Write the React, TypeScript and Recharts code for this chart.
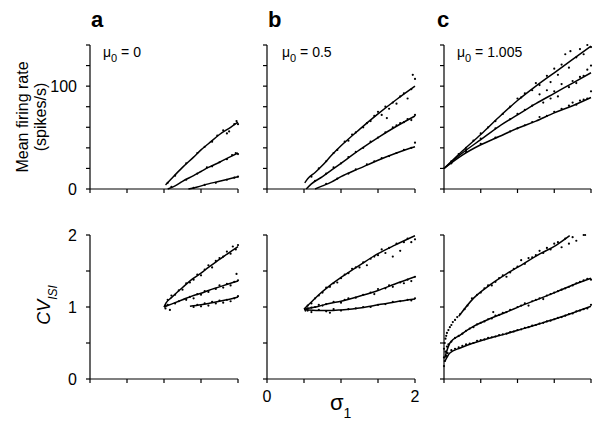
import { ComposedChart, Line, Scatter, XAxis, YAxis } from "recharts"

type Pt = [number, number]

const FONT = "'Liberation Sans', Arial, Helvetica, sans-serif"

const SIGMA_TICKS = [0, 0.5, 1, 1.5, 2]
const RATE_TICKS = [0, 20, 40, 60, 80, 100, 120, 140]
const CV_TICKS = [0, 0.5, 1, 1.5, 2]
const RATE_LABELS = [0, 100]
const CV_LABELS = [0, 1, 2]
const SIGMA_LABELS = [0, 2]
const PANEL_LETTERS = ["a", "b", "c"]
const MU0 = ["0", "0.5", "1.005"]

// firing rate, mu0 = 0
const fitA1: Pt[] = [[1.02, 4], [1.1, 10], [1.25, 21], [1.4, 31], [1.5, 38], [1.6, 44], [1.75, 53], [1.9, 60], [2, 65]]
const fitA2: Pt[] = [[1.05, 0], [1.15, 3], [1.25, 7.5], [1.4, 13], [1.5, 17], [1.6, 21], [1.75, 26], [1.9, 31.5], [2, 35]]
const fitA3: Pt[] = [[1.33, 0], [1.45, 2], [1.6, 5], [1.75, 7.5], [1.9, 10.2], [2, 12]]
const dotsA1: Pt[] = [[1.05, 6], [1.15, 13], [1.3, 25], [1.45, 35], [1.55, 41], [1.65, 46], [1.72, 52], [1.8, 57], [1.85, 54], [1.88, 56], [1.95, 63], [1.98, 66], [2, 63]]
const dotsA2: Pt[] = [[1.1, 2], [1.3, 9], [1.45, 15], [1.58, 21], [1.65, 22], [1.75, 26], [1.85, 29], [1.92, 33], [1.97, 35], [2, 34]]
const dotsA3: Pt[] = [[1.4, 1], [1.55, 4], [1.7, 6], [1.85, 9], [1.95, 11], [2, 12]]

// firing rate, mu0 = 0.5
const fitB1: Pt[] = [[0.51, 6], [0.55, 10], [0.65, 16], [0.75, 23], [0.875, 33], [1, 42], [1.25, 58], [1.5, 73], [1.75, 87], [2, 100]]
const fitB2: Pt[] = [[0.53, 0], [0.6, 5], [0.75, 12], [0.875, 18.5], [1, 25], [1.25, 38], [1.5, 50], [1.75, 61], [2, 71]]
const fitB3: Pt[] = [[0.65, 0], [0.75, 3], [0.875, 7], [1, 12], [1.25, 20], [1.5, 28], [1.75, 35], [2, 41]]
const dotsB1: Pt[] = [[0.6, 12], [0.7, 20], [0.8, 27], [0.9, 35], [0.95, 38], [1.05, 46], [1.1, 47], [1.15, 53], [1.2, 55], [1.3, 60], [1.35, 64], [1.4, 66], [1.45, 71], [1.5, 75], [1.55, 72], [1.6, 80], [1.62, 69], [1.65, 78], [1.7, 84], [1.75, 83], [1.8, 90], [1.85, 93], [1.9, 88], [1.95, 97], [1.97, 111], [2, 107]]
const dotsB2: Pt[] = [[0.65, 8], [0.8, 15], [0.9, 21], [1, 25], [1.1, 31], [1.2, 36], [1.3, 40], [1.4, 46], [1.5, 50], [1.6, 55], [1.7, 60], [1.75, 62], [1.8, 64], [1.85, 65], [1.9, 68], [1.95, 67], [2, 72]]
const dotsB3: Pt[] = [[0.8, 5], [0.95, 10], [1.1, 15], [1.2, 19], [1.35, 24], [1.45, 27], [1.55, 30], [1.65, 32], [1.75, 35], [1.85, 38], [1.95, 40], [2, 45]]

// firing rate, mu0 = 1.005
const fitC1: Pt[] = [[0, 20], [0.25, 37], [0.5, 53], [0.75, 70], [1, 86], [1.25, 100], [1.5, 113], [1.75, 126], [2, 139]]
const fitC2: Pt[] = [[0, 20], [0.25, 35], [0.5, 48], [0.75, 61], [1, 72], [1.25, 83], [1.5, 93], [1.75, 103], [2, 113]]
const fitC3: Pt[] = [[0, 20], [0.25, 33], [0.5, 43], [0.75, 51], [1, 59], [1.25, 66], [1.5, 74], [1.75, 81], [2, 89]]
const dotsC1: Pt[] = [[0.1, 27], [0.2, 34], [0.3, 40], [0.4, 47], [0.5, 54], [0.6, 60], [0.7, 66], [0.8, 73], [0.9, 80], [1, 88], [1.05, 89], [1.1, 93], [1.2, 96], [1.25, 103], [1.3, 101], [1.4, 110], [1.45, 104], [1.5, 117], [1.55, 111], [1.6, 121], [1.65, 131], [1.7, 118], [1.72, 134], [1.8, 128], [1.85, 136], [1.9, 131], [1.95, 140], [2, 138]]
const dotsC2: Pt[] = [[0.1, 26], [0.3, 38], [0.5, 49], [0.7, 59], [0.9, 68], [1, 73], [1.1, 77], [1.2, 81], [1.3, 92], [1.35, 84], [1.4, 96], [1.45, 88], [1.5, 95], [1.55, 90], [1.6, 102], [1.7, 99], [1.75, 105], [1.8, 103], [1.85, 109], [1.9, 110], [1.95, 116], [2, 120]]
const dotsC3: Pt[] = [[0.1, 25], [0.3, 36], [0.5, 44], [0.7, 50], [0.9, 56], [1, 59], [1.1, 62], [1.2, 65], [1.3, 70], [1.4, 71], [1.5, 75], [1.6, 78], [1.7, 81], [1.75, 84], [1.8, 82], [1.85, 86], [1.9, 87], [1.95, 88], [2, 95]]

// CV ISI, mu0 = 0
const cvFitA1: Pt[] = [[1, 1], [1.03, 1.06], [1.1, 1.13], [1.25, 1.27], [1.4, 1.4], [1.5, 1.47], [1.6, 1.55], [1.75, 1.66], [1.9, 1.77], [2, 1.84]]
const cvFitA2: Pt[] = [[1, 1], [1.1, 1.04], [1.25, 1.1], [1.4, 1.16], [1.5, 1.19], [1.6, 1.23], [1.75, 1.28], [1.9, 1.33], [2, 1.36]]
const cvFitA3: Pt[] = [[1.35, 1.01], [1.5, 1.03], [1.65, 1.06], [1.8, 1.09], [1.9, 1.11], [2, 1.14]]
const cvDotsA1: Pt[] = [[1.02, 1.02], [1.05, 1.1], [1.1, 1.16], [1.15, 1.17], [1.2, 1.23], [1.25, 1.24], [1.3, 1.33], [1.35, 1.34], [1.4, 1.38], [1.45, 1.45], [1.5, 1.44], [1.55, 1.52], [1.6, 1.58], [1.65, 1.55], [1.7, 1.64], [1.75, 1.68], [1.8, 1.7], [1.85, 1.77], [1.9, 1.74], [1.93, 1.84], [1.97, 1.8], [2, 1.86]]
const cvDotsA2: Pt[] = [[1.02, 0.98], [1.05, 1.03], [1.08, 0.96], [1.15, 1.05], [1.2, 1.08], [1.3, 1.1], [1.35, 1.14], [1.4, 1.12], [1.45, 1.18], [1.5, 1.17], [1.55, 1.22], [1.6, 1.21], [1.7, 1.25], [1.75, 1.3], [1.8, 1.27], [1.85, 1.32], [1.9, 1.3], [1.95, 1.35], [1.98, 1.46], [2, 1.37]]
const cvDotsA3: Pt[] = [[1.4, 1], [1.45, 1.03], [1.5, 1.01], [1.55, 1.05], [1.6, 1.02], [1.65, 1.07], [1.7, 1.05], [1.75, 1.09], [1.8, 1.06], [1.85, 1.1], [1.9, 1.08], [1.95, 1.12], [2, 1.15]]

// CV ISI, mu0 = 0.5
const cvFitB1: Pt[] = [[0.5, 0.97], [0.6, 1.07], [0.7, 1.17], [0.84, 1.29], [1, 1.41], [1.28, 1.6], [1.5, 1.74], [1.73, 1.86], [2, 1.99]]
const cvFitB2: Pt[] = [[0.5, 0.97], [0.7, 1.01], [0.84, 1.05], [1, 1.08], [1.28, 1.16], [1.5, 1.23], [1.73, 1.32], [2, 1.42]]
const cvFitB3: Pt[] = [[0.5, 0.97], [0.7, 0.95], [0.84, 0.95], [1, 0.96], [1.28, 0.99], [1.5, 1.03], [1.73, 1.07], [2, 1.11]]
const cvDotsB1: Pt[] = [[0.52, 0.95], [0.55, 1.02], [0.6, 1.05], [0.65, 1.12], [0.7, 1.16], [0.75, 1.2], [0.8, 1.27], [0.85, 1.28], [0.9, 1.33], [0.95, 1.34], [1, 1.4], [1.05, 1.45], [1.1, 1.47], [1.15, 1.53], [1.2, 1.55], [1.25, 1.55], [1.3, 1.62], [1.35, 1.58], [1.4, 1.67], [1.45, 1.7], [1.5, 1.72], [1.55, 1.8], [1.6, 1.75], [1.65, 1.82], [1.7, 1.7], [1.75, 1.88], [1.8, 1.78], [1.85, 1.9], [1.9, 1.95], [1.95, 1.9], [2, 1.94]]
const cvDotsB2: Pt[] = [[0.55, 0.98], [0.6, 0.99], [0.65, 1], [0.7, 1.03], [0.75, 1.02], [0.8, 1.04], [0.9, 1.07], [1, 1.06], [1.05, 1.1], [1.1, 1.12], [1.2, 1.13], [1.3, 1.17], [1.4, 1.2], [1.45, 1.18], [1.5, 1.25], [1.6, 1.26], [1.65, 1.3], [1.7, 1.28], [1.8, 1.34], [1.85, 1.33], [1.9, 1.38], [1.95, 1.36], [2, 1.42]]
const cvDotsB3: Pt[] = [[0.55, 0.95], [0.6, 0.93], [0.7, 0.96], [0.8, 0.94], [0.85, 0.92], [0.9, 0.97], [1, 0.95], [1.1, 0.97], [1.2, 0.98], [1.3, 1], [1.4, 1], [1.5, 1.03], [1.6, 1.04], [1.7, 1.07], [1.8, 1.08], [1.9, 1.1], [1.95, 1.09], [2, 1.12]]

// CV ISI, mu0 = 1.005
const cvFitC1: Pt[] = [[0.2, 0.87], [0.4, 1.12], [0.63, 1.31], [0.85, 1.46], [1.08, 1.6], [1.31, 1.74], [1.53, 1.86], [1.71, 1.99]]
const cvFitC2: Pt[] = [[0.01, 0.29], [0.08, 0.5], [0.22, 0.61], [0.4, 0.73], [0.63, 0.84], [0.85, 0.93], [1.08, 1.03], [1.31, 1.12], [1.53, 1.21], [1.76, 1.31], [2, 1.4]]
const cvFitC3: Pt[] = [[0.01, 0.24], [0.08, 0.36], [0.22, 0.43], [0.4, 0.5], [0.63, 0.57], [0.85, 0.63], [1.08, 0.7], [1.31, 0.77], [1.53, 0.84], [1.76, 0.92], [2, 1.01]]
const cvDotsC1: Pt[] = [[0, 0.42], [0.01, 0.5], [0.02, 0.56], [0.03, 0.6], [0.04, 0.64], [0.06, 0.68], [0.08, 0.72], [0.1, 0.75], [0.12, 0.79], [0.15, 0.82], [0.18, 0.86], [0.22, 0.9], [0.28, 0.97], [0.32, 1.02], [0.38, 1.12], [0.45, 1.17], [0.5, 1.2], [0.55, 1.26], [0.6, 1.3], [0.65, 1.3], [0.7, 1.35], [0.75, 1.4], [0.8, 1.44], [0.85, 1.42], [0.9, 1.48], [0.95, 1.53], [1, 1.56], [1.05, 1.65], [1.1, 1.6], [1.15, 1.68], [1.2, 1.69], [1.25, 1.72], [1.3, 1.78], [1.35, 1.75], [1.4, 1.82], [1.45, 1.8], [1.5, 1.88], [1.55, 1.9], [1.6, 1.83], [1.65, 1.95], [1.7, 1.88], [1.75, 1.97], [1.8, 1.92], [1.9, 2], [1.92, 2]]
const cvDotsC2: Pt[] = [[0, 0.3], [0.02, 0.38], [0.04, 0.45], [0.06, 0.48], [0.1, 0.52], [0.15, 0.57], [0.2, 0.6], [0.25, 0.63], [0.3, 0.67], [0.35, 0.7], [0.4, 0.72], [0.45, 0.76], [0.5, 0.78], [0.55, 0.8], [0.6, 0.83], [0.65, 0.84], [0.67, 0.93], [0.7, 0.88], [0.75, 0.89], [0.8, 0.92], [0.85, 0.93], [0.9, 0.96], [1, 1], [1.05, 1.02], [1.1, 1.05], [1.15, 1.02], [1.2, 1.08], [1.25, 1.1], [1.3, 1.12], [1.35, 1.11], [1.4, 1.16], [1.45, 1.18], [1.5, 1.2], [1.55, 1.22], [1.6, 1.24], [1.65, 1.26], [1.7, 1.28], [1.75, 1.3], [1.8, 1.33], [1.85, 1.35], [1.9, 1.37], [1.95, 1.39], [2, 1.38]]
const cvDotsC3: Pt[] = [[0, 0.18], [0.01, 0.25], [0.03, 0.32], [0.05, 0.36], [0.1, 0.4], [0.15, 0.42], [0.2, 0.44], [0.25, 0.46], [0.3, 0.48], [0.35, 0.49], [0.4, 0.5], [0.45, 0.53], [0.5, 0.54], [0.55, 0.55], [0.6, 0.57], [0.65, 0.58], [0.7, 0.59], [0.75, 0.61], [0.8, 0.62], [0.85, 0.63], [0.9, 0.65], [0.95, 0.66], [1, 0.68], [1.05, 0.69], [1.1, 0.71], [1.15, 0.72], [1.2, 0.74], [1.25, 0.75], [1.3, 0.77], [1.35, 0.78], [1.4, 0.8], [1.45, 0.81], [1.5, 0.83], [1.55, 0.85], [1.6, 0.86], [1.65, 0.88], [1.7, 0.9], [1.75, 0.91], [1.8, 0.94], [1.85, 0.95], [1.9, 0.97], [1.95, 0.98], [2, 1.03]]

const toXY = (pts: Pt[]) => pts.map(([x, y]) => ({ x, y }))

const tickStyle = { fontSize: 16, fill: "#000", fontFamily: FONT }

const Dot = (props: any) => <circle cx={props.cx} cy={props.cy} r={1.1} fill="#000" />

type PanelProps = {
  left: number
  top: number
  yw: number
  plotW: number
  xh: number
  yDomain: [number, number]
  yTicks: number[]
  yLabels: number[]
  xLabels: number[]
  fits: Pt[][]
  dots: Pt[][]
}

function Panel({ left, top, yw, plotW, xh, yDomain, yTicks, yLabels, xLabels, fits, dots }: PanelProps) {
  const width = yw + plotW + 8
  const height = 15 + 144 + xh + 2
  return (
    <div style={{ position: "absolute", left, top }}>
      <ComposedChart width={width} height={height} margin={{ top: 15, right: 8, bottom: 2, left: 0 }}>
        <XAxis
          type="number"
          dataKey="x"
          domain={[0, 2]}
          ticks={SIGMA_TICKS}
          interval={0}
          height={xh}
          tickSize={4}
          tickMargin={8}
          tick={tickStyle}
          tickFormatter={(v: number) => (xLabels.includes(v) ? String(v) : "")}
          axisLine={{ stroke: "#000", strokeWidth: 1.2 }}
          tickLine={{ stroke: "#000", strokeWidth: 1.2 }}
        />
        <YAxis
          type="number"
          dataKey="y"
          domain={yDomain}
          ticks={yTicks}
          interval={0}
          width={yw}
          tickSize={4}
          tickMargin={9}
          tick={tickStyle}
          tickFormatter={(v: number) => (yLabels.includes(v) ? String(v) : "")}
          axisLine={{ stroke: "#000", strokeWidth: 1.2 }}
          tickLine={{ stroke: "#000", strokeWidth: 1.2 }}
        />
        {dots.map((d, i) => (
          <Scatter key={"d" + i} data={toXY(d)} dataKey="y" shape={Dot} isAnimationActive={false} />
        ))}
        {fits.map((f, i) => (
          <Line
            key={"f" + i}
            data={toXY(f)}
            dataKey="y"
            type="monotone"
            stroke="#000"
            strokeWidth={1.5}
            dot={false}
            activeDot={false}
            isAnimationActive={false}
          />
        ))}
      </ComposedChart>
    </div>
  )
}

const COLS = [
  { left: 10, yw: 80, plotW: 148 },
  { left: 237, yw: 30, plotW: 148 },
  { left: 414, yw: 30, plotW: 147 },
]
const LETTER_X = [91, 268, 437]
const MU_X = [103, 282, 457]

export default function App() {
  const rateFits = [[fitA1, fitA2, fitA3], [fitB1, fitB2, fitB3], [fitC1, fitC2, fitC3]]
  const rateDots = [[dotsA1, dotsA2, dotsA3], [dotsB1, dotsB2, dotsB3], [dotsC1, dotsC2, dotsC3]]
  const cvFits = [[cvFitA1, cvFitA2, cvFitA3], [cvFitB1, cvFitB2, cvFitB3], [cvFitC1, cvFitC2, cvFitC3]]
  const cvDots = [[cvDotsA1, cvDotsA2, cvDotsA3], [cvDotsB1, cvDotsB2, cvDotsB3], [cvDotsC1, cvDotsC2, cvDotsC3]]

  return (
    <div style={{ position: "absolute", left: 0, top: 0, width: 600, height: 427, background: "#fff", overflow: "hidden", fontFamily: FONT }}>
      {COLS.map((c, i) => (
        <Panel
          key={"r" + i}
          left={c.left}
          top={30}
          yw={c.yw}
          plotW={c.plotW}
          xh={10}
          yDomain={[0, 140]}
          yTicks={RATE_TICKS}
          yLabels={i === 0 ? RATE_LABELS : []}
          xLabels={[]}
          fits={rateFits[i]}
          dots={rateDots[i]}
        />
      ))}
      {COLS.map((c, i) => (
        <Panel
          key={"c" + i}
          left={c.left}
          top={220}
          yw={c.yw}
          plotW={c.plotW}
          xh={30}
          yDomain={[0, 2]}
          yTicks={CV_TICKS}
          yLabels={i === 0 ? CV_LABELS : []}
          xLabels={i === 1 ? SIGMA_LABELS : []}
          fits={cvFits[i]}
          dots={cvDots[i]}
        />
      ))}
      <svg width={600} height={427} style={{ position: "absolute", left: 0, top: 0, pointerEvents: "none" }} fontFamily={FONT}>
        {PANEL_LETTERS.map((l, i) => (
          <text key={l} x={LETTER_X[i]} y={27} fontSize={22} fontWeight="bold" fill="#000">
            {l}
          </text>
        ))}
        {MU0.map((m, i) => (
          <text key={m} x={MU_X[i]} y={57} fontSize={14} fill="#000">
            μ<tspan dy={5} fontSize={11}>0</tspan>
            <tspan dy={-5}> = {m}</tspan>
          </text>
        ))}
        <text transform="translate(28,117) rotate(-90)" textAnchor="middle" fontSize={16} fill="#000">
          Mean firing rate
        </text>
        <text transform="translate(46,117) rotate(-90)" textAnchor="middle" fontSize={16} fill="#000">
          (spikes/s)
        </text>
        <text transform="translate(50,305) rotate(-90)" textAnchor="middle" fontSize={18} fontStyle="italic" fill="#000">
          CV<tspan dy={7} fontSize={12}>ISI</tspan>
        </text>
        <text x={330} y={410} fontSize={22} fill="#000">
          σ<tspan dy={8} fontSize={14}>1</tspan>
        </text>
      </svg>
    </div>
  )
}
